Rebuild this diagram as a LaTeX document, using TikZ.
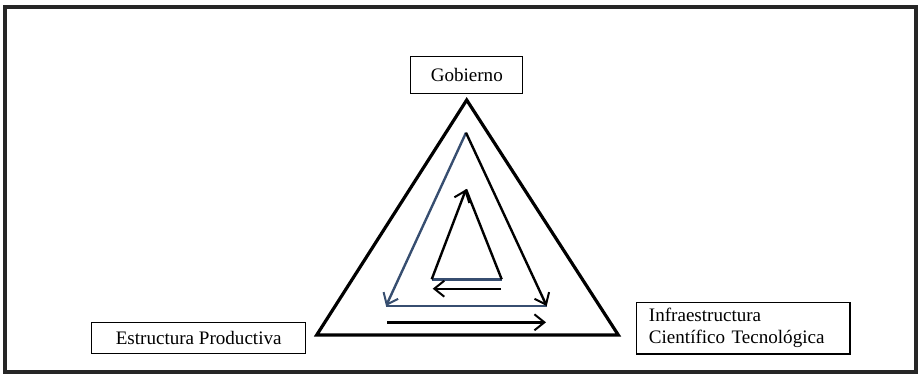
\documentclass[tikz,border=0pt]{standalone}
\usepackage{fontspec}
\setmainfont{Liberation Serif}
\usetikzlibrary{arrows.meta}
\definecolor{steel}{RGB}{55,78,112}
\begin{document}
\begin{tikzpicture}[x=0.75pt,y=-0.75pt,
  label box/.style={draw, line width=0.8pt, inner sep=0pt, font=\fontsize{14.3}{16.5}\selectfont},
  outer/.style={line width=2.4pt, line join=miter},
  flow/.style={line width=1.8pt, -{Straight Barb[length=7.5pt,width=12pt,line width=1.5pt]}},
  plain/.style={line width=1.8pt}]
\useasboundingbox (0,0) rectangle (920,376);
% frame
\draw[line width=2.3pt, black!85] (5,7) rectangle (916,372);

% label boxes
\node[label box, minimum width=83.8pt, minimum height=28pt] (gob) at (466.8,74.7) {Gobierno};
\node[label box, minimum width=160.5pt, minimum height=23pt] (est) at (198.7,338) {Estructura Productiva};
\node[label box, minimum width=160pt, minimum height=38.5pt, align=left, text width=141.5pt] (inf) at (743.3,328.3)
  {Infraestructura\\Científico Tecnológica};

% outer triangle
\coordinate (A) at (466.7,100);
\coordinate (B) at (316.7,335);
\coordinate (C) at (618.3,335);
\draw[outer] (A) -- (B) -- (C) -- cycle;

% middle triangle: flows downwards from the apex
\coordinate (M) at (466,132.7);
\coordinate (ML) at (386,306);
\coordinate (MR) at (546.7,306);
\draw[plain, steel] (ML) -- (MR);
\draw[flow, steel] (M) -- (ML);
\draw[flow] (M) -- (MR);

% inner triangle: flow upwards to the apex
\coordinate (I) at (466,189.3);
\coordinate (IL) at (431.7,279.3);
\coordinate (IR) at (501.7,279.3);
\draw[plain, steel] (IL) -- (IR);
\draw[plain] (IR) -- (I);
\draw[flow] (IL) -- (I);

% horizontal arrows
\coordinate (a1) at (501,288.7);
\coordinate (a2) at (432.7,288.7);
\draw[flow] (a1) -- (a2);
\coordinate (b1) at (387.3,322.3);
\coordinate (b2) at (546,322.3);
\draw[flow] (b1) -- (b2);
\end{tikzpicture}
\end{document}
